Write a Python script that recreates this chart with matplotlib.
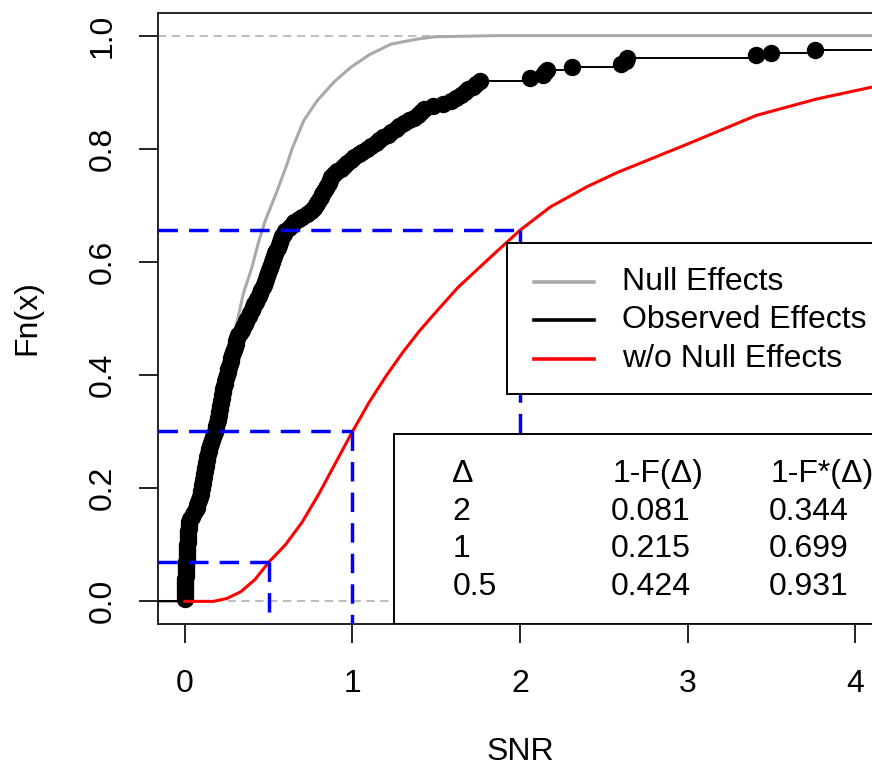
import numpy as np
import matplotlib
matplotlib.use("Agg")
import matplotlib.pyplot as plt
from matplotlib.patches import Rectangle

plt.rcParams['font.family'] = ['Liberation Sans', 'DejaVu Sans']
plt.rcParams['lines.scale_dashes'] = False

observed_snr = [
    0.000, 0.001, 0.001, 0.002, 0.002, 0.003, 0.003, 0.004, 0.005, 0.006, 0.007, 0.008, 0.009, 0.010,
    0.011, 0.012, 0.013, 0.014, 0.015, 0.016, 0.017, 0.018, 0.019, 0.020, 0.021, 0.022, 0.023, 0.024,
    0.03, 0.04, 0.05,
    0.06, 0.07, 0.075, 0.08, 0.085, 0.09, 0.095, 0.098, 0.10,
    0.103, 0.106, 0.109, 0.112, 0.115, 0.118, 0.121, 0.124, 0.127, 0.130, 0.134, 0.137,
    0.142, 0.147, 0.152, 0.157, 0.162, 0.167, 0.172, 0.18,
    0.184, 0.188, 0.192, 0.197,
    0.200, 0.203, 0.206, 0.209, 0.212, 0.215, 0.218, 0.221, 0.224, 0.227, 0.230, 0.233,
    0.238, 0.242, 0.247, 0.251, 0.256, 0.260, 0.265, 0.269, 0.274, 0.278, 0.282, 0.286,
    0.292, 0.297, 0.303, 0.308, 0.314, 0.32,
    0.33, 0.34, 0.35, 0.36, 0.365, 0.37, 0.38, 0.39,
    0.398, 0.406, 0.414, 0.423, 0.432, 0.44, 0.448, 0.456, 0.465,
    0.471, 0.477, 0.483, 0.49, 0.496, 0.502, 0.508, 0.514, 0.52, 0.527, 0.534, 0.54,
    0.547, 0.554, 0.561, 0.568, 0.575, 0.582, 0.589, 0.595,
    0.62, 0.64, 0.65,
    0.68, 0.70, 0.73,
    0.75, 0.77, 0.78, 0.79, 0.80, 0.81, 0.82,
    0.83, 0.84, 0.85, 0.86, 0.865, 0.87,
    0.89, 0.91, 0.93, 0.95, 0.97, 0.99,
    1.01, 1.04, 1.06, 1.09,
    1.11, 1.14, 1.16, 1.18,
    1.21, 1.23, 1.26, 1.28, 1.31,
    1.34, 1.37, 1.39, 1.41, 1.43,
    1.48, 1.54, 1.59,
    1.62, 1.65, 1.67, 1.69,
    1.72, 1.74, 1.76,
    2.06, 2.14, 2.15, 2.16, 2.31, 2.60, 2.63, 2.64, 3.41, 3.50, 3.76,
    4.5, 5.2, 6.0, 7.3, 9.1,
]

# Null effects ECDF (drawn as a line)
null_x = [0.0, 0.02, 0.06, 0.12, 0.18, 0.24, 0.27, 0.30, 0.32, 0.35, 0.40, 0.44, 0.48, 0.55,
          0.61, 0.64, 0.71, 0.79, 0.89, 0.99, 1.10, 1.23, 1.39, 1.49, 1.87, 4.3]
null_F = [0.0, 0.05, 0.12, 0.22, 0.31, 0.39, 0.435, 0.478, 0.505, 0.545, 0.59, 0.635, 0.673, 0.725,
          0.773, 0.80, 0.85, 0.885, 0.918, 0.944, 0.966, 0.985, 0.994, 0.998, 1.0, 1.0]

# Distribution without null effects
wo_null_x = [0.0, 0.17, 0.25, 0.334, 0.42, 0.5, 0.6, 0.7, 0.8, 0.9, 1.0, 1.1, 1.2, 1.3, 1.4,
             1.5, 1.63, 1.83, 2.0, 2.18, 2.4, 2.58, 2.98, 3.41, 3.77, 4.10, 4.3]
wo_null_F = [0.0, 0.0, 0.005, 0.017, 0.039, 0.069, 0.10, 0.14, 0.19, 0.245, 0.30, 0.352, 0.398,
             0.440, 0.478, 0.512, 0.555, 0.61, 0.656, 0.697, 0.733, 0.758, 0.806, 0.859, 0.888,
             0.909, 0.918]

deltas = ["2", "1", "0.5"]
delta_x = [2, 1, 0.5]
one_minus_F = ["0.081", "0.215", "0.424"]
one_minus_Fstar = ["0.344", "0.699", "0.931"]
legend_labels = ["Null Effects", "Observed Effects", "w/o Null Effects"]
legend_colors = ["#a9a9a9", "black", "red"]

fs = 23
fig = plt.figure(figsize=(8.72, 7.72), dpi=100)
ax = fig.add_axes([158/872, 1 - 624/772, (882 - 158)/872, (624 - 13)/772])
xmin, xmax = -0.16, 4.16
ax.set_xlim(xmin, xmax)
ax.set_ylim(-0.04, 1.04)

# reference lines at 0 and 1
for h in (0, 1):
    ax.axhline(h, color="#bdbdbd", lw=1.4, dashes=(6, 4), zorder=1)

# null effects
ax.plot(null_x, null_F, color=legend_colors[0], lw=2.2, zorder=2)
ax.plot([xmin, null_x[0]], [0, 0], color=legend_colors[0], lw=2.2, zorder=2)

# observed ECDF with points
xs = np.sort(np.array(observed_snr))
n = len(xs)
Fn = np.arange(1, n + 1) / n
ax.hlines(Fn[:-1], xs[:-1], xs[1:], color="black", lw=1.4, zorder=3)
ax.hlines([0], [xmin], [xs[0]], color="black", lw=1.4, zorder=3)
ax.plot(xs, Fn, "o", color="black", ms=11.5, zorder=3)

# without null effects
ax.plot(wo_null_x, wo_null_F, color="red", lw=2.2, zorder=4)

# blue guide lines
for d, v in zip(delta_x, one_minus_Fstar):
    yv = 1 - float(v)
    ax.plot([xmin, d], [yv, yv], color="blue", lw=2.5, dashes=(14, 8), zorder=5)
    ax.plot([d, d], [yv, -0.04], color="blue", lw=2.5, dashes=(14, 8), zorder=5)

# legend box
ax.add_patch(Rectangle((1.925, 0.366), 5, 0.268, facecolor="white",
                       edgecolor="black", lw=1.4, zorder=6))
for yv, lab, col in zip([0.565, 0.497, 0.428], legend_labels, legend_colors):
    ax.plot([2.086, 2.444], [yv, yv], color=col, lw=2.6, zorder=7)
    ax.text(2.611, yv, lab, fontsize=fs, va="center", ha="left", zorder=7)

# table box
ax.add_patch(Rectangle((1.246, -0.04), 5, 0.335, facecolor="white",
                       edgecolor="black", lw=1.4, zorder=6))
rows_y = [0.158, 0.093, 0.025]
ax.text(1.596, 0.226, "\u0394", fontsize=fs, va="center", ha="left", zorder=7)
ax.text(2.55, 0.226, "1-F(\u0394)", fontsize=fs, va="center", ha="left", zorder=7)
ax.text(3.493, 0.226, "1-F*(\u0394)", fontsize=fs, va="center", ha="left", zorder=7)
for yv, d, a, b in zip(rows_y, deltas, one_minus_F, one_minus_Fstar):
    ax.text(1.596, yv, d, fontsize=fs, va="center", ha="left", zorder=7)
    ax.text(2.54, yv, a, fontsize=fs, va="center", ha="left", zorder=7)
    ax.text(3.483, yv, b, fontsize=fs, va="center", ha="left", zorder=7)

ax.set_xticks([0, 1, 2, 3, 4])
ax.set_yticks([0.0, 0.2, 0.4, 0.6, 0.8, 1.0])
ax.set_yticklabels(["0.0", "0.2", "0.4", "0.6", "0.8", "1.0"])
ax.tick_params(axis="both", labelsize=fs, length=14, width=1.4, color="#222222")
ax.tick_params(axis="x", pad=18.5)
ax.tick_params(axis="y", pad=15)
plt.setp(ax.get_yticklabels(), rotation=90, va="center")
for sp in ax.spines.values():
    sp.set_linewidth(1.4)
    sp.set_color("#222222")

fig.text(520/872, 1 - 752/772, "SNR", fontsize=fs, ha="center", va="center")
fig.text(27/872, 1 - 318/772, "Fn(x)", fontsize=fs, ha="center", va="center", rotation=90)

fig.savefig("out.png", dpi=100)
